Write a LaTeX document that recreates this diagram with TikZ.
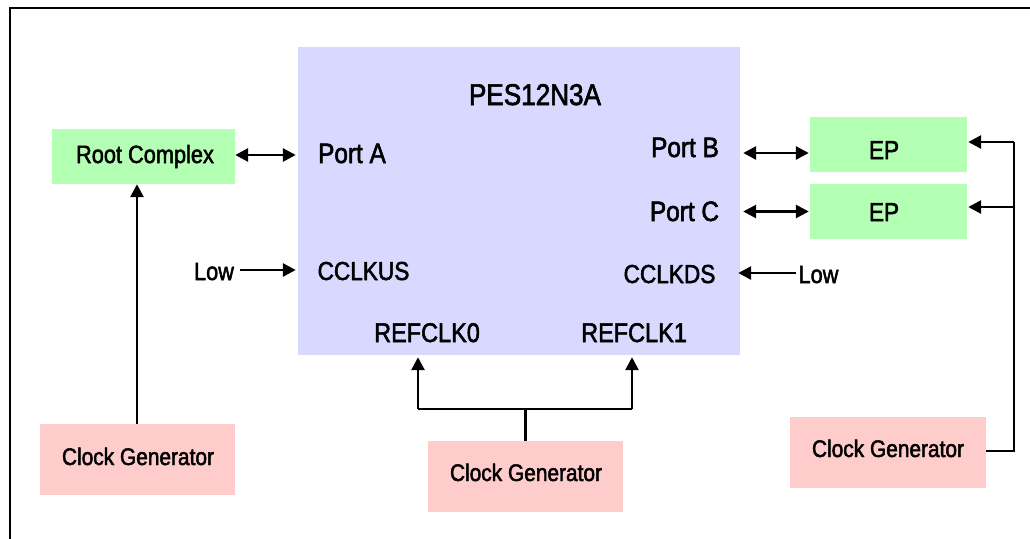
\documentclass[tikz,border=0pt]{standalone}
\usepackage{fontspec}
\setmainfont{Liberation Sans}[FakeStretch=0.87,FakeBold=2]
\usetikzlibrary{arrows.meta}
\definecolor{chipfill}{HTML}{D9D9FF}
\definecolor{greenfill}{HTML}{B3FFB3}
\definecolor{pinkfill}{HTML}{FFCCCC}
\tikzset{
  blk/.style={rectangle, inner sep=0pt, draw=none},
  lbl/.style={inner sep=0pt, anchor=base},
  conn/.style={line width=2.7pt},
  tip/.style={-{Triangle[length=13pt,width=13pt]}},
  tips/.style={{Triangle[length=13pt,width=13pt]}-{Triangle[length=13pt,width=13pt]}},
}
\begin{document}
\begin{tikzpicture}[x=1pt,y=-1pt]
\useasboundingbox (0,0) rectangle (1030,538);
% frame
\draw[line width=2.8pt] (10,540) -- (10,8) -- (1032,8);
% blocks
\node[blk, fill=chipfill, minimum width=442pt, minimum height=308pt] (chip) at (519,201) {};
\node[blk, fill=greenfill, minimum width=183pt, minimum height=55pt] (root) at (143.5,156.5) {};
\node[blk, fill=greenfill, minimum width=157pt, minimum height=55pt] (ep1) at (888.5,144.5) {};
\node[blk, fill=greenfill, minimum width=157pt, minimum height=55pt] (ep2) at (888.5,211.5) {};
\node[blk, fill=pinkfill, minimum width=195pt, minimum height=71pt] (clkL) at (137.5,459.5) {};
\node[blk, fill=pinkfill, minimum width=195pt, minimum height=71pt] (clkM) at (525.5,476.5) {};
\node[blk, fill=pinkfill, minimum width=196pt, minimum height=71pt] (clkR) at (888,452.5) {};
% labels
\node[lbl, font=\fontsize{30}{30}\selectfont] (title) at (535,105) {PES12N3A};
\node[lbl, font=\fontsize{25}{25}\selectfont] (rootl) at (145,163) {Root Complex};
\node[lbl, font=\fontsize{26}{26}\selectfont] (ep1l) at (884,159) {EP};
\node[lbl, font=\fontsize{26}{26}\selectfont] (ep2l) at (884,221) {EP};
\node[lbl, font=\fontsize{24}{24}\selectfont] (clkLl) at (138,465) {Clock Generator};
\node[lbl, font=\fontsize{24}{24}\selectfont] (clkMl) at (526,481) {Clock Generator};
\node[lbl, font=\fontsize{24}{24}\selectfont] (clkRl) at (888,457) {Clock Generator};
\node[lbl, font=\fontsize{28}{28}\selectfont] (pa) at (352,163) {Port A};
\node[lbl, font=\fontsize{28}{28}\selectfont] (pb) at (685,157) {Port B};
\node[lbl, font=\fontsize{28}{28}\selectfont] (pc) at (684.5,221) {Port C};
\node[lbl, font=\fontsize{26}{26}\selectfont] (cus) at (363.5,280) {CCLKUS};
\node[lbl, font=\fontsize{26}{26}\selectfont] (cds) at (669.5,283) {CCLKDS};
\node[lbl, font=\fontsize{25}{25}\selectfont] (lowL) at (214,280) {Low};
\node[lbl, font=\fontsize{25}{25}\selectfont] (lowR) at (818.5,283) {Low};
\node[lbl, font=\fontsize{27}{27}\selectfont] (r0) at (427,342) {REFCLK0};
\node[lbl, font=\fontsize{27}{27}\selectfont] (r1) at (634,342) {REFCLK1};
% helper coordinates
\coordinate (busR) at (1014,142);
\coordinate (busM) at (525.5,409);
\coordinate (bl) at (418,409);
\coordinate (br) at (632,409);
% connectors
\draw[conn, tips] ([yshift=1.5pt]root.east) -- ([yshift=1.5pt,xshift=-2pt]root.east -| chip.west);
\draw[conn, tips] ([yshift=-8.5pt,xshift=3pt]ep1.west -| chip.east) -- ([yshift=-8.5pt,xshift=-1pt]ep1.west);
\draw[conn, tips] ([xshift=3pt]ep2.west -| chip.east) -- ([xshift=-1pt]ep2.west);
\draw[conn, tip] ([xshift=6pt]lowL.east |- 0,270) -- ([xshift=-2pt]chip.west |- 0,270);
\draw[conn, tip] ([xshift=-2pt]lowR.west |- 0,273) -- ([xshift=-2pt]chip.east |- 0,273);
\draw[conn, tip] (clkL.north -| 137,0) -- (root.south -| 137,0);
\draw[conn] (clkM.north) -- (busM);
\draw[conn] (bl) -- (br);
\draw[conn, tip] (bl) -- ([yshift=-2pt]bl |- chip.south);
\draw[conn, tip] (br) -- ([yshift=-2pt]br |- chip.south);
\draw[conn] ([yshift=1.5pt]clkR.east) -| (busR);
\draw[conn, tip] (busR) -- ([xshift=1pt]busR -| ep1.east);
\draw[conn, tip] (busR |- 0,207) -- ([xshift=1pt]ep2.east |- 0,207);
\end{tikzpicture}
\end{document}
